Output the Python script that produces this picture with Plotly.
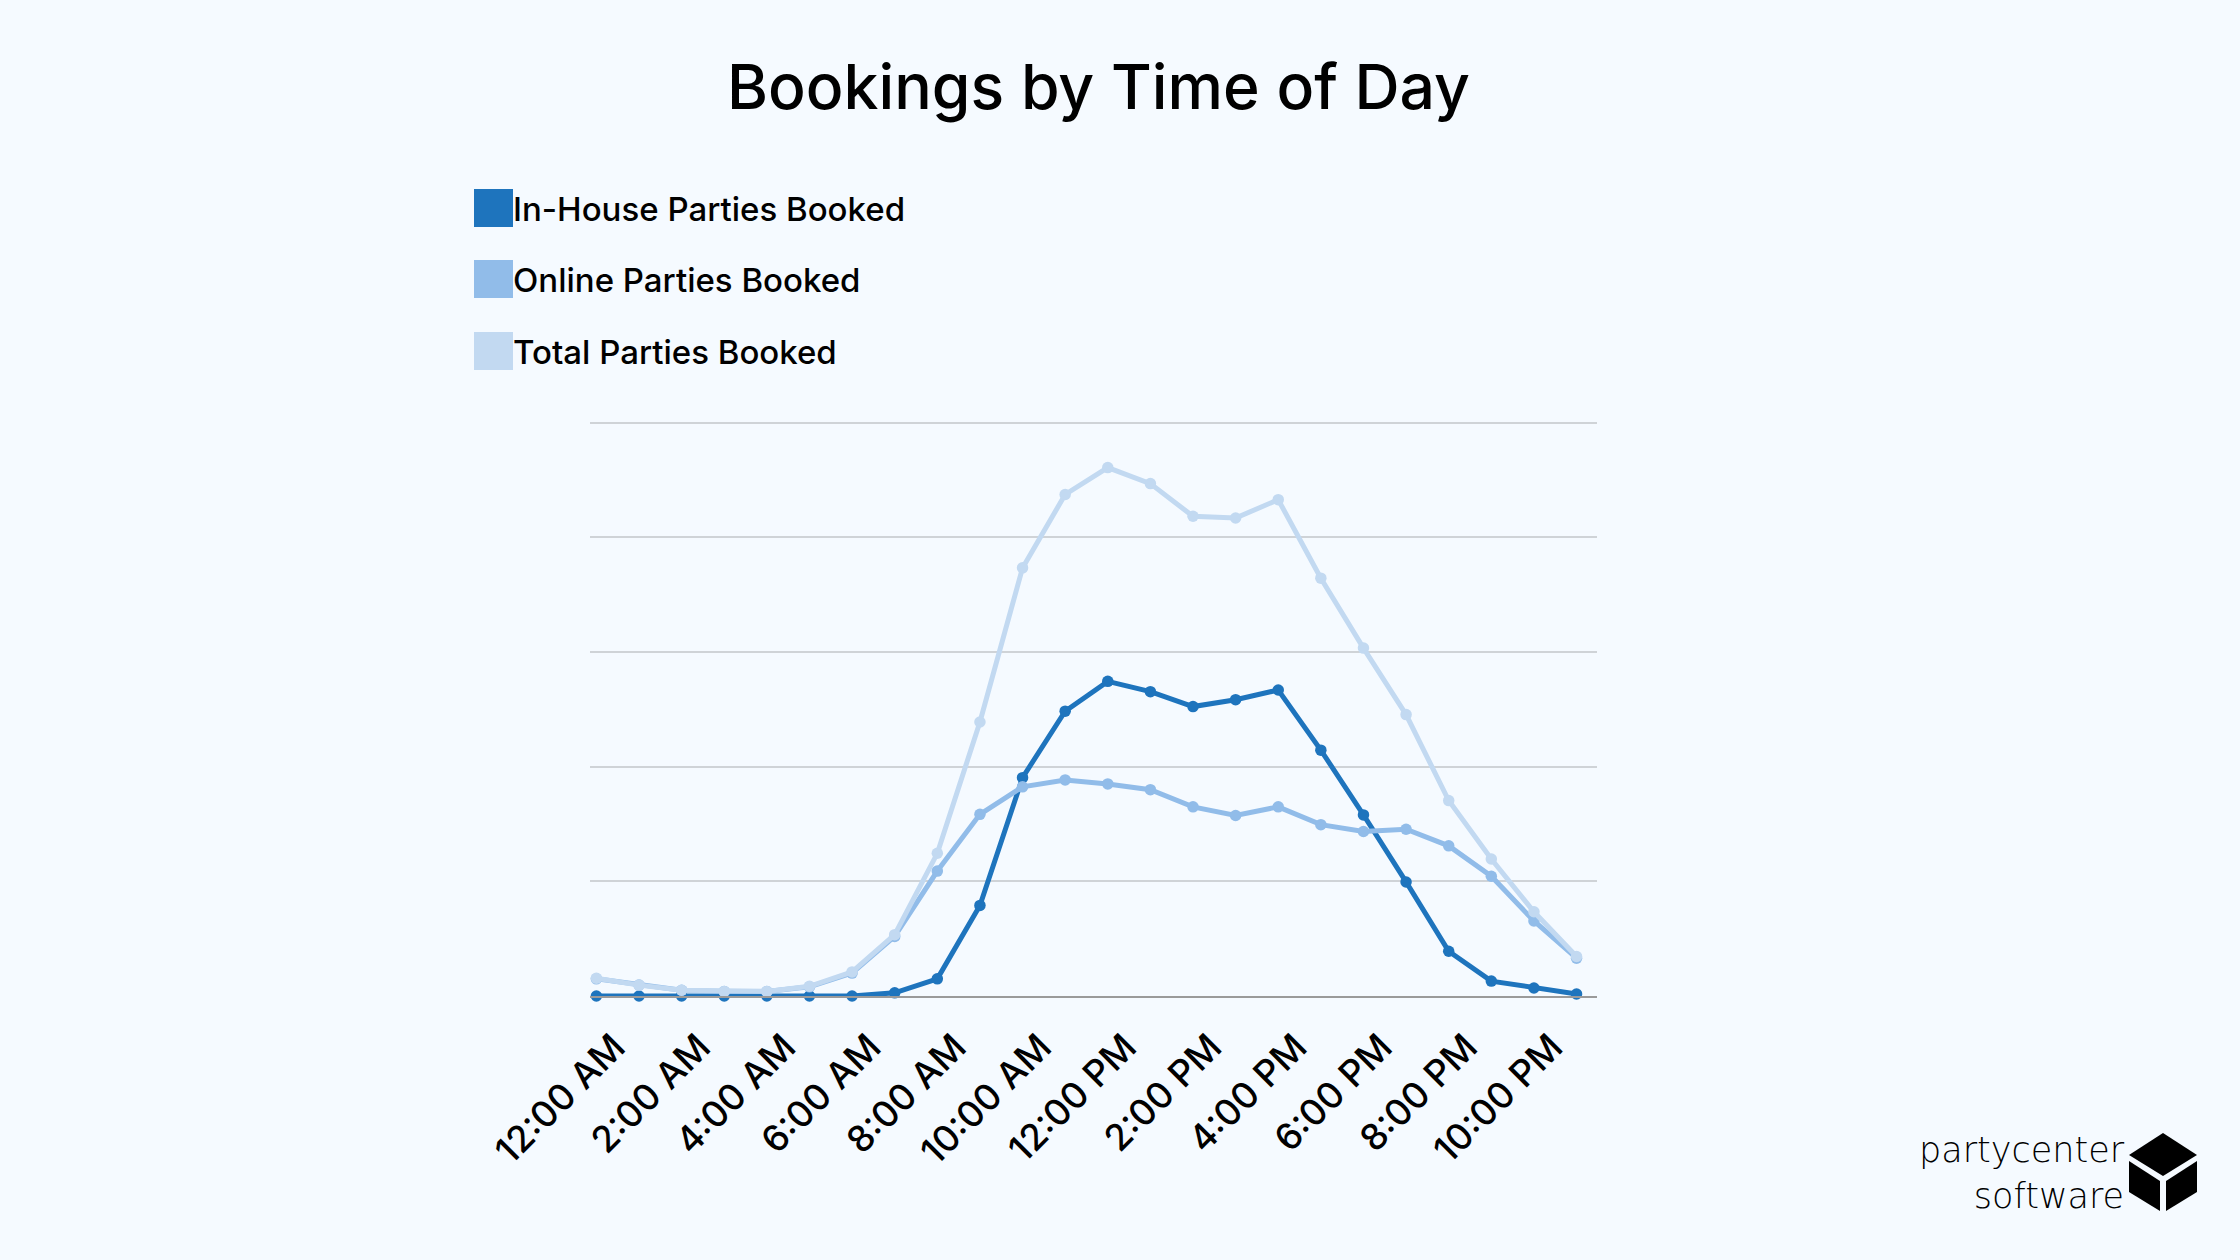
import plotly.graph_objects as go

hours = list(range(24))
tick_vals = [0, 2, 4, 6, 8, 10, 12, 14, 16, 18, 20, 22]
tick_text = ["12:00 AM", "2:00 AM", "4:00 AM", "6:00 AM", "8:00 AM", "10:00 AM",
             "12:00 PM", "2:00 PM", "4:00 PM", "6:00 PM", "8:00 PM", "10:00 PM"]

in_house = [0, 0, 0, 0, 0, 0, 0, 0.55, 3.0, 15.8, 38.1, 49.7, 54.9, 53.1, 50.5, 51.7,
            53.4, 42.9, 31.6, 19.9, 7.8, 2.6, 1.4, 0.35]
online = [3.0, 1.9, 1.0, 0.8, 0.8, 1.6, 4.0, 10.4, 21.8, 31.7, 36.5, 37.7, 37.0, 36.0,
          33.0, 31.5, 33.0, 29.9, 28.7, 29.1, 26.2, 20.9, 13.1, 6.6]
total = [3.1, 1.9, 1.0, 0.8, 0.8, 1.7, 4.2, 10.7, 24.9, 47.8, 74.7, 87.5, 92.2, 89.4,
         83.7, 83.4, 86.6, 72.9, 60.7, 49.1, 34.1, 23.9, 14.7, 6.9]

series_names = ["In-House Parties Booked", "Online Parties Booked", "Total Parties Booked"]
series_colors = ["#1e74bd", "#91bce9", "#c2d9f1"]
series_values = [in_house, online, total]

W, H = 2240, 1260
PL, PR, PT, PB = 590, 1597, 420, 996
Y_MAX = 100.5
BG = "#f5faff"
FONT = "Inter"


def px(x):
    return (x - PL) / (PR - PL)


def py(y):
    return (PB - y) / (PB - PT)


fig = go.Figure()
for name, color, vals in zip(series_names, series_colors, series_values):
    fig.add_trace(go.Scatter(
        x=hours, y=vals, name=name, mode="lines+markers",
        line=dict(color=color, width=5),
        marker=dict(color=color, size=11.5),
        cliponaxis=False, showlegend=False,
    ))

shapes = []
annotations = []

# title
annotations.append(dict(
    text="Bookings by Time of Day", x=px(1098), y=py(86), xref="paper", yref="paper",
    xanchor="center", yanchor="middle", showarrow=False,
    font=dict(family=FONT, size=62.5, color="#000000", weight=500),
))

# legend
legend_rows = [208, 279, 351]
for name, color, cy in zip(series_names, series_colors, legend_rows):
    shapes.append(dict(
        type="rect", xref="paper", yref="paper",
        x0=px(474), x1=px(513), y0=py(cy - 19), y1=py(cy + 19),
        fillcolor=color, line=dict(width=0),
    ))
    annotations.append(dict(
        text=name, x=px(511), y=py(cy + 1), xref="paper", yref="paper",
        xanchor="left", yanchor="middle", showarrow=False,
        font=dict(family=FONT, size=33, color="#000000", weight=500),
    ))

# logo
annotations.append(dict(
    text="partycenter<br>software", x=px(2127), y=py(1173), xref="paper", yref="paper",
    xanchor="right", yanchor="middle", align="right", showarrow=False,
    font=dict(family="DejaVu Sans", size=35, color="#000000", weight=200),
))


def path(points):
    return "M " + " L ".join(f"{px(a)},{py(b)}" for a, b in points) + " Z"


cube_faces = [
    [(2163, 1133), (2197, 1155), (2163, 1176), (2129, 1155)],
    [(2129, 1161), (2160, 1181), (2160, 1211), (2129, 1192)],
    [(2166, 1181), (2197, 1161), (2197, 1192), (2166, 1211)],
]
for face in cube_faces:
    shapes.append(dict(type="path", xref="paper", yref="paper", path=path(face),
                       fillcolor="#000000", line=dict(width=0)))

fig.update_layout(
    width=W, height=H,
    margin=dict(l=PL, r=W - PR, t=PT, b=H - PB),
    paper_bgcolor=BG, plot_bgcolor=BG,
    font=dict(family=FONT, color="#000000"),
    shapes=shapes, annotations=annotations,
    xaxis=dict(
        range=[-0.15, 23.48], tickmode="array", tickvals=tick_vals, ticktext=tick_text,
        tickangle=-45, tickfont=dict(family=FONT, size=36.5, color="#000000", weight=500),
        showgrid=False, zeroline=False, showline=True, linecolor="#9a9a9a", linewidth=2,
        ticks="", ticklabelstandoff=13, ticklabelshift=18,
    ),
    yaxis=dict(
        range=[0, Y_MAX], tickmode="array", tickvals=[0, 20, 40, 60, 80, 100],
        showticklabels=False, showgrid=True, gridcolor="#cfd3d7", gridwidth=1.5,
        zeroline=False, ticks="",
    ),
)

fig.write_html("out.html")
